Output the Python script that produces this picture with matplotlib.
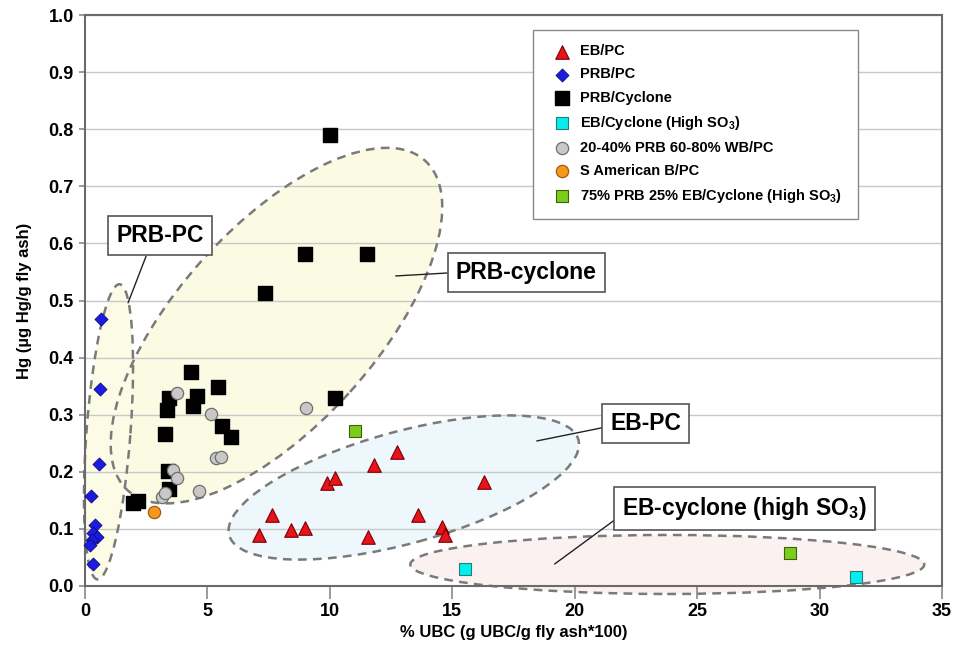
#!/usr/bin/python3

# Hg vs UBC scatter with dashed regions for coal / boiler types

import numpy as np
import matplotlib
matplotlib.use('Agg')
import matplotlib.pyplot as plt
from matplotlib.patches import Ellipse
from matplotlib.transforms import ScaledTranslation

plt.rcParams['font.family'] = ['Liberation Sans', 'DejaVu Sans']
plt.rcParams['font.weight'] = 'bold'
plt.rcParams['axes.labelweight'] = 'bold'
plt.rcParams['mathtext.fontset'] = 'custom'
plt.rcParams['mathtext.rm'] = 'Liberation Sans:bold'
plt.rcParams['mathtext.bf'] = 'Liberation Sans:bold'

# data (x = % UBC, y = Hg ug/g)
eb_pc_x = [12.75, 11.8, 9.9, 10.2, 16.3, 7.65, 13.6, 7.1, 8.4, 9.0, 11.55, 14.6, 14.7]
eb_pc_y = [0.235, 0.212, 0.181, 0.189, 0.183, 0.124, 0.124, 0.089, 0.098, 0.102, 0.086, 0.104, 0.089]

prb_pc_x = [0.65, 0.61, 0.57, 0.23, 0.41, 0.34, 0.48, 0.27, 0.2, 0.31]
prb_pc_y = [0.468, 0.345, 0.214, 0.158, 0.107, 0.093, 0.086, 0.081, 0.072, 0.039]

prb_cyc_x = [10.0, 9.0, 11.5, 7.35, 4.33, 5.42, 3.43, 4.56, 3.33, 4.42, 5.58, 5.96,
             3.27, 3.4, 3.43, 1.97, 2.18, 10.23]
prb_cyc_y = [0.789, 0.581, 0.581, 0.513, 0.375, 0.348, 0.329, 0.332, 0.309, 0.315,
             0.281, 0.261, 0.267, 0.202, 0.17, 0.145, 0.148, 0.33]

eb_cyc_x = [15.5, 31.5]
eb_cyc_y = [0.029, 0.015]

blend_x = [3.76, 5.13, 9.02, 5.33, 5.55, 3.58, 3.77, 4.67, 3.13, 3.25]
blend_y = [0.338, 0.302, 0.312, 0.224, 0.226, 0.203, 0.19, 0.166, 0.155, 0.162]

sam_x = [2.83]
sam_y = [0.129]

mix_x = [11.02, 28.78]
mix_y = [0.271, 0.057]

# dashed regions: centre (data), semi axes (px), angle (deg), fill colour
regions = [
    ((7.82, 0.456), 222, 99, 48, '#fbfbe4'),
    ((0.96, 0.27), 148, 22, 85.7, '#fbfbe6'),
    ((13.02, 0.1725), 181, 56, 15.3, '#eef7fb'),
    ((23.78, 0.0377), 257, 29.5, 0, '#fbf1f0'),
]

fig = plt.figure(figsize=(9.57, 6.55), dpi=100)
ax = fig.add_axes([85 / 957, 1 - 586 / 655, 857 / 957, 571 / 655])
ax.set_xlim(0, 35)
ax.set_ylim(0, 1.0)

for (cx, cy), a, b, ang, fc in regions:
    tr = fig.dpi_scale_trans + ScaledTranslation(cx, cy, ax.transData)
    ax.add_patch(Ellipse((0, 0), 2 * a / 100, 2 * b / 100, angle=ang,
                         transform=tr, facecolor=fc, edgecolor='none',
                         zorder=0.2, clip_on=False))
    ax.add_patch(Ellipse((0, 0), 2 * a / 100, 2 * b / 100, angle=ang,
                         transform=tr, facecolor='none', edgecolor='#7a7a7a',
                         linestyle=(0, (3.5, 2.5)), linewidth=1.8,
                         zorder=2, clip_on=False))

ax.scatter(eb_pc_x, eb_pc_y, marker='^', s=95, c='#e8121a', edgecolors='#7a0000',
           linewidths=0.8, zorder=3, label='EB/PC', clip_on=False)
ax.scatter(prb_pc_x, prb_pc_y, marker='D', s=44, c='#1c1ce0', edgecolors='#0a0a80',
           linewidths=0.6, zorder=3, label='PRB/PC', clip_on=False)
ax.scatter(prb_cyc_x, prb_cyc_y, marker='s', s=88, c='black', edgecolors='black',
           zorder=3, label='PRB/Cyclone', clip_on=False)
ax.scatter(eb_cyc_x, eb_cyc_y, marker='s', s=72, c='#00f0f0', edgecolors='#2a7a7a',
           linewidths=0.8, zorder=3, label='EB/Cyclone (High SO$_3$)', clip_on=False)
ax.scatter(blend_x, blend_y, marker='o', s=78, c='#c8c8c8', edgecolors='#6e6e6e',
           linewidths=0.9, zorder=3, label='20-40% PRB 60-80% WB/PC', clip_on=False)
ax.scatter(sam_x, sam_y, marker='o', s=78, c='#f5981c', edgecolors='#a05a10',
           linewidths=0.9, zorder=3, label='S American B/PC', clip_on=False)
ax.scatter(mix_x, mix_y, marker='s', s=80, c='#7ccc1c', edgecolors='#3c6010',
           linewidths=0.8, zorder=3, label='75% PRB 25% EB/Cyclone (High SO$_3$)',
           clip_on=False)

# callout boxes
box = dict(boxstyle='square,pad=0.35', facecolor='white', edgecolor='#555555', linewidth=1.2)
callouts = [
    ('PRB-PC', (3.06, 0.613), (1.76, 0.496), (0.38, 0.0)),
    ('PRB-cyclone', (18.02, 0.549), (12.69, 0.543), (0.0, 0.5)),
    ('EB-PC', (22.9, 0.284), (18.45, 0.254), (0.0, 0.4)),
    ('EB-cyclone (high SO$_3$)', (26.94, 0.135), (19.18, 0.0385), (0.0, 0.3)),
]
for txt, tpos, ppos, rp in callouts:
    ax.annotate(txt, xy=ppos, xytext=tpos, ha='center', va='center', fontsize=16.5,
                bbox=box, zorder=4,
                arrowprops=dict(arrowstyle='-', color='#222222', lw=1.0,
                                relpos=rp, shrinkA=0, shrinkB=0))

# axes styling
ax.set_yticks(np.arange(0, 1.01, 0.1))
ax.set_yticklabels(['%.1f' % v for v in np.arange(0, 1.01, 0.1)])
ax.set_xticks(range(0, 36, 5))
ax.yaxis.grid(True, color='#c8c8c8', linewidth=1.0, zorder=1)
ax.set_axisbelow(True)
for s in ['top', 'right', 'bottom', 'left']:
    ax.spines[s].set_color('#6a6a6a')
    ax.spines[s].set_linewidth(1.5)
ax.tick_params(axis='x', direction='out', length=9, width=1.2, color='#8a8a8a',
               labelsize=13, pad=3)
ax.tick_params(axis='y', direction='out', length=4, width=1.2, color='#8a8a8a',
               labelsize=13, pad=4)
ax.set_ylabel('Hg (\u00b5g Hg/g fly ash)', fontsize=12, labelpad=12)
ax.set_xlabel('% UBC (g UBC/g fly ash*100)', fontsize=12, labelpad=4)

ax.legend(loc='upper left', bbox_to_anchor=(0.523, 0.644, 0.379, 0.33), mode='expand',
          borderaxespad=0, fancybox=False, edgecolor='#8a8a8a', framealpha=1,
          fontsize=10.5, labelspacing=0.62, handletextpad=0.2, borderpad=1.0,
          scatterpoints=1, markerscale=1.0)

fig.savefig('out.png', dpi=100)
